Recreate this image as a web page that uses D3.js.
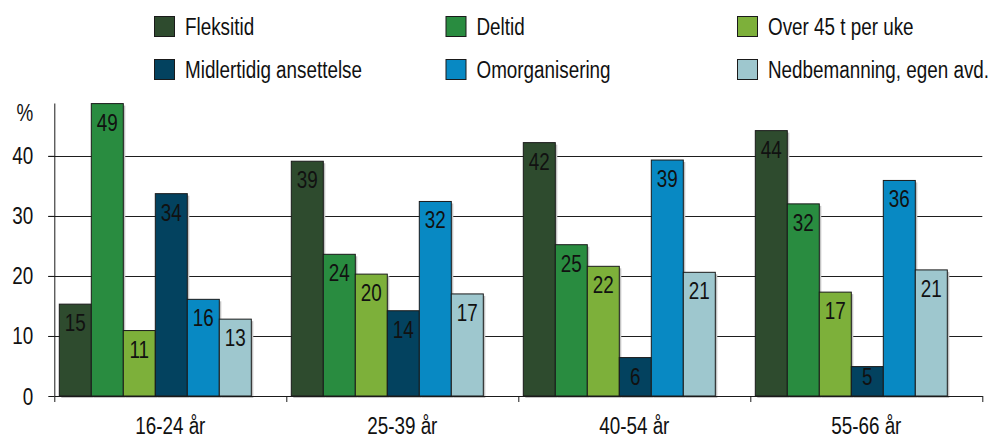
<!DOCTYPE html>
<html>
<head>
<meta charset="utf-8">
<script src="https://cdn.jsdelivr.net/npm/d3@7"></script>
<style>
  html, body { margin: 0; padding: 0; background: #fff; }
  svg { display: block; }
  text { font-family: "Liberation Sans", Arial, sans-serif; fill: #111; }
</style>
</head>
<body>
<svg id="chart" width="994" height="440"></svg>
<script>
// Age groups along the x axis
const categories = ["16-24 år", "25-39 år", "40-54 år", "55-66 år"];

// Series names and colours
const seriesNames = [
  "Fleksitid", "Deltid", "Over 45 t per uke",
  "Midlertidig ansettelse", "Omorganisering", "Nedbemanning, egen avd."
];
const seriesColors = ["#2e4b2e", "#298c40", "#7db03a", "#03425f", "#0889c3", "#9ec7ce"];

// Percent per series, one value per age group
const fleksitid    = [15.3, 39.1, 42.2, 44.2];
const deltid       = [48.7, 23.6, 25.2, 32.0];
const over45       = [10.9, 20.3, 21.6, 17.3];
const midlertidig  = [33.7, 14.2, 6.4, 4.9];
const omorg        = [16.1, 32.4, 39.3, 35.9];
const nedbemanning = [12.8, 17.0, 20.6, 21.0];

// Y-axis ticks
const yTicks = [0, 10, 20, 30, 40];

const seriesValues = [fleksitid, deltid, over45, midlertidig, omorg, nedbemanning];

const svg = d3.select("#chart");

const plotLeft = 54.3, plotRight = 982.3, plotBottom = 396, plotTop = 103;
const FONT = 23, NARROW = 0.82;   // condensed sans, like Arial Narrow

// Place a condensed text at (x, y)
function narrowAt(x, yy) { return `translate(${x},${yy}) scale(${NARROW},1)`; }

const y = d3.scaleLinear().domain([0, 48.8]).range([plotBottom, plotTop]);
const x0 = d3.scaleBand().domain(categories).range([plotLeft, plotRight]).padding(0);
const x1 = d3.scaleBand().domain(seriesNames).range([5, 197]).padding(0);

// Gridlines
svg.append("g")
  .selectAll("line")
  .data(yTicks.filter(d => d > 0))
  .join("line")
  .attr("x1", plotLeft - 6).attr("x2", plotRight)
  .attr("y1", d => Math.round(y(d)) + 0.5).attr("y2", d => Math.round(y(d)) + 0.5)
  .attr("stroke", "#1e1e1e").attr("stroke-width", 1);

// Bars
const rows = [];
categories.forEach((c, ci) => {
  seriesNames.forEach((s, si) => {
    rows.push({ cat: c, series: s, color: seriesColors[si], value: seriesValues[si][ci] });
  });
});

const barG = svg.append("g");
// soft shadow behind bars
barG.selectAll("rect.shadow")
  .data(rows)
  .join("rect")
  .attr("class", "shadow")
  .attr("x", d => x0(d.cat) + x1(d.series) + 2)
  .attr("y", d => y(d.value) + 2)
  .attr("width", x1.bandwidth())
  .attr("height", d => y(0) - y(d.value))
  .attr("fill", "#c4c4c4");

barG.selectAll("rect.bar")
  .data(rows)
  .join("rect")
  .attr("class", "bar")
  .attr("x", d => x0(d.cat) + x1(d.series))
  .attr("y", d => y(d.value))
  .attr("width", x1.bandwidth())
  .attr("height", d => y(0) - y(d.value))
  .attr("fill", d => d.color)
  .attr("stroke", "#1a1a1a")
  .attr("stroke-width", 1);

// Value labels inside the top of each bar
barG.selectAll("text.barlabel")
  .data(rows)
  .join("text")
  .attr("class", "barlabel")
  .attr("transform", d => narrowAt(
    x0(d.cat) + x1(d.series) + x1.bandwidth() / 2,
    Math.min(y(d.value) + 27, y(0) - 11)))
  .attr("text-anchor", "middle")
  .attr("font-size", FONT)
  .text(d => d3.format(".0f")(d.value));

// Y axis
const yAxis = svg.append("g")
  .attr("transform", `translate(${plotLeft},0)`)
  .call(d3.axisLeft(y).tickValues(yTicks).tickSize(6).tickSizeOuter(0).tickPadding(15).tickFormat(d3.format("d")));
yAxis.selectAll("path, line").attr("stroke", "#1a1a1a");
yAxis.selectAll("text")
  .attr("x", null).attr("dy", null)
  .attr("transform", narrowAt(-21, 8))
  .attr("font-size", FONT).attr("fill", "#111")
  .style("font-family", '"Liberation Sans", Arial, sans-serif');

svg.append("text")
  .attr("transform", narrowAt(33.3, 121))
  .attr("text-anchor", "end")
  .attr("font-size", FONT)
  .text("%");

// X axis with ticks between the groups
const xb = d3.scaleLinear().domain([0, categories.length]).range([plotLeft, plotRight]);
const xAxis = svg.append("g")
  .attr("transform", `translate(0,${plotBottom})`)
  .call(d3.axisBottom(xb).tickValues(d3.range(categories.length + 1)).tickSize(6).tickSizeOuter(0).tickFormat(""));
xAxis.selectAll("path, line").attr("stroke", "#1a1a1a");

svg.append("g")
  .selectAll("text")
  .data(categories)
  .join("text")
  .attr("transform", d => narrowAt(x0(d) + x0.bandwidth() / 2, 434))
  .attr("text-anchor", "middle")
  .attr("font-size", FONT)
  .text(d => d);

// Legend: three columns, two rows
const legend = svg.append("g");
const legItems = legend.selectAll("g")
  .data(seriesNames)
  .join("g")
  .attr("transform", (d, i) => `translate(${154 + (i % 3) * 291.5},${16 + Math.floor(i / 3) * 43})`);
legItems.append("rect")
  .attr("x", 0.5).attr("y", 0.5)
  .attr("width", 20).attr("height", 20)
  .attr("fill", (d, i) => seriesColors[i])
  .attr("stroke", "#1a1a1a");
legItems.append("text")
  .attr("transform", narrowAt(31, 18.5))
  .attr("font-size", FONT)
  .text(d => d);
</script>
</body>
</html>
